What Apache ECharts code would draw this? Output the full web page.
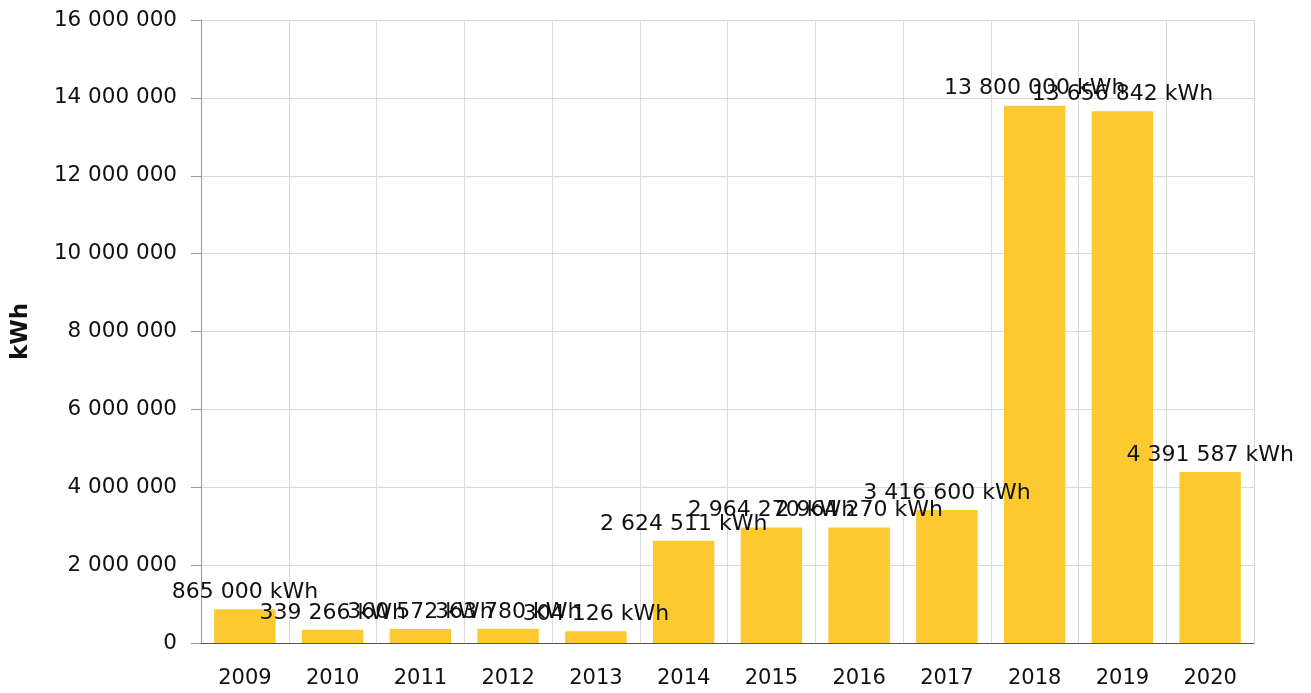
<!DOCTYPE html>
<html>
<head>
<meta charset="utf-8">
<script src="https://cdn.jsdelivr.net/npm/echarts@6/dist/echarts.min.js"></script>
<style>
  html, body { margin: 0; padding: 0; background: #fff; }
  #chart { width: 1311px; height: 693px; }
</style>
</head>
<body>
<div id="chart"></div>
<script>
// data
const years = ['2009', '2010', '2011', '2012', '2013', '2014', '2015', '2016', '2017', '2018', '2019', '2020'];
const energy = [865000, 339266, 360572, 363780, 304126, 2624511, 2964270, 2964270, 3416600, 13800000, 13656842, 4391587];

// 1234567 -> "1 234 567"
const spaced = v => String(Math.round(v)).replace(/\B(?=(\d{3})+(?!\d))/g, ' ');

const chart = echarts.init(document.getElementById('chart'));
const font = 'DejaVu Sans';

chart.setOption({
  animation: false,
  textStyle: { fontFamily: font },
  grid: { left: 201, right: 57, top: 20, bottom: 50, containLabel: false },
  xAxis: {
    type: 'category',
    data: years,
    axisLine: { lineStyle: { color: '#555', width: 1 } },
    axisTick: { alignWithLabel: true, length: 8, lineStyle: { color: '#888' } },
    axisLabel: { color: '#111', fontSize: 21, margin: 25, fontFamily: font },
    splitLine: { show: true, lineStyle: { color: '#d9d9d9' } }
  },
  yAxis: {
    type: 'value',
    min: 0,
    max: 16000000,
    interval: 2000000,
    name: 'kWh',
    nameLocation: 'middle',
    nameGap: 168,
    nameTextStyle: { color: '#111', fontSize: 23, fontWeight: 'bold', fontFamily: font },
    axisLine: { show: true, lineStyle: { color: '#999' } },
    axisTick: { show: true, length: 10, lineStyle: { color: '#999' } },
    axisLabel: { color: '#111', fontSize: 21.5, margin: 24, fontFamily: font, formatter: v => spaced(v) },
    splitLine: { lineStyle: { color: '#d9d9d9' } }
  },
  series: [{
    type: 'bar',
    data: energy,
    barWidth: '70%',
    itemStyle: { color: '#fdc930' },
    label: {
      show: true,
      position: 'top',
      distance: 6,
      color: '#111',
      fontSize: 22,
      fontFamily: font,
      formatter: p => spaced(p.value) + ' kWh'
    }
  }]
});
</script>
</body>
</html>
